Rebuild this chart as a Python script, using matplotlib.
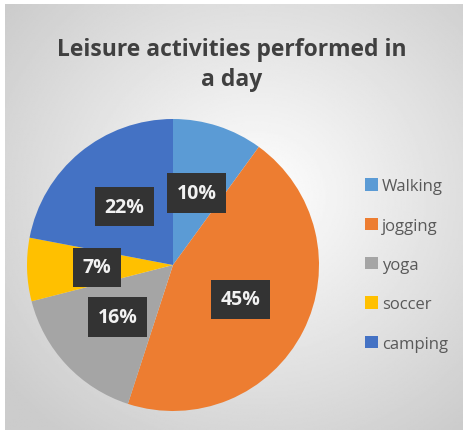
import numpy as np
import matplotlib.pyplot as plt

# data
activities = ["Walking", "jogging", "yoga", "soccer", "camping"]
shares = [10, 45, 16, 7, 22]
colors = ["#5B9BD5", "#ED7D31", "#A5A5A5", "#FFC000", "#4472C4"]

fig = plt.figure(figsize=(4.63, 4.31), dpi=100)
fig.patch.set_facecolor("white")

# radial gradient background (chart area)
bg = fig.add_axes([5 / 463, 0, 458 / 463, 426 / 431])
yy, xx = np.mgrid[0:1:300j, 0:1:300j]
r = np.sqrt(((xx - 0.55) / 0.7) ** 2 + ((yy - 0.45) / 0.7) ** 2)
grad = np.clip(r, 0, 1)
img = 1.0 - 0.2 * grad
bg.imshow(img, cmap="gray", vmin=0, vmax=1, extent=[0, 1, 0, 1], aspect="auto")
bg.axis("off")

plt.rcParams["font.family"] = ["Open Sans", "DejaVu Sans"]

fig.text(0.5, 1 - 50 / 431, "Leisure activities performed in", ha="center", va="center",
         fontsize=16.5, fontweight="bold", color="#404040")
fig.text(0.5, 1 - 80 / 431, "a day", ha="center", va="center",
         fontsize=16.5, fontweight="bold", color="#404040")

ax = fig.add_axes([27 / 463, 1 - 412 / 431, 292 / 463, 292 / 431])
wedges, texts, autotexts = ax.pie(shares, colors=colors, startangle=90, counterclock=False,
                                  autopct="%d%%", pctdistance=0.52,
                                  wedgeprops=dict(linewidth=0))
for t in autotexts:
    t.set_color("#f2f2f2")
    t.set_fontsize(14)
    t.set_fontweight("bold")
    t.set_bbox(dict(boxstyle="square,pad=0.5", facecolor="#333333", edgecolor="none"))
ax.set_xlim(-1, 1)
ax.set_ylim(-1, 1)
ax.set_aspect("equal")

leg = fig.legend(wedges, activities, loc="center left", bbox_to_anchor=(350 / 463, 1 - 266 / 431),
                 frameon=False, fontsize=12, labelspacing=1.4, handlelength=0.75,
                 handleheight=0.75, handletextpad=0.25, labelcolor="#595959")

plt.savefig("out.png", dpi=100)
